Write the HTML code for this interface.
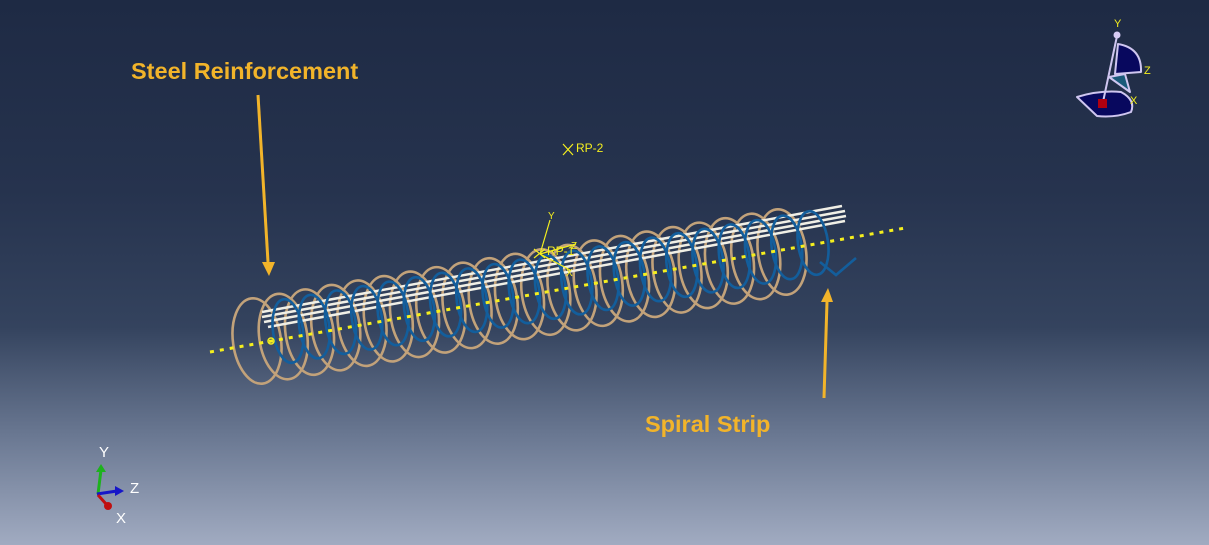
<!DOCTYPE html>
<html><head><style>
html,body{margin:0;padding:0;}
body{width:1209px;height:545px;overflow:hidden;background:linear-gradient(180deg,#1e2a44 0%,#26334e 35%,#34435e 60%,#6a7892 80%,#a1abc1 100%);font-family:"Liberation Sans",sans-serif;position:relative;}
.lbl{position:absolute;color:#f2b42a;font-weight:bold;font-size:23.5px;}
</style></head><body>
<div class="lbl" style="left:131px;top:58px;">Steel Reinforcement</div>
<div class="lbl" style="left:645px;top:411px;">Spiral Strip</div>
<svg width="1209" height="545" style="position:absolute;left:0;top:0" id="s">
<g id="tan" fill="none" stroke="#c2a27a" stroke-width="2.6"></g>
<g id="bars" stroke="#f0efe6" stroke-width="2.5">
<line x1="262" y1="312" x2="842" y2="206"/>
<line x1="262" y1="317" x2="845" y2="211"/>
<line x1="264" y1="322" x2="846" y2="216"/>
<line x1="268" y1="327" x2="845" y2="221"/>
</g>
<g id="blue" fill="none" stroke="#135e9c" stroke-width="2.6"></g>
<polyline points="820,262 836,275 856,258" fill="none" stroke="#135e9c" stroke-width="2.6"/>
<line x1="210" y1="352" x2="905" y2="228" stroke="#f5ef1e" stroke-width="3" stroke-dasharray="4,6"/>
<circle cx="271" cy="341" r="3" fill="none" stroke="#f5ef1e" stroke-width="1.5"/>
<line x1="258" y1="95" x2="268" y2="262" stroke="#f2b42a" stroke-width="3"/>
<polygon points="262,262 275,262 269,276" fill="#f2b42a"/>
<line x1="824" y1="398" x2="827" y2="302" stroke="#f2b42a" stroke-width="3"/>
<polygon points="821,302 833,302 828,288" fill="#f2b42a"/>
<g stroke="#f5ef1e" stroke-width="1.2" fill="none">
<path d="M563 144 L573 155 M573 144 L563 155"/>
<path d="M534 249 L545 258 M545 249 L534 258"/>
<line x1="540" y1="254" x2="550" y2="220"/>
<line x1="540" y1="254" x2="570" y2="270"/>
<line x1="540" y1="254" x2="576" y2="244"/>
</g>
<g fill="#f5ef1e" font-size="12" font-family="Liberation Sans,sans-serif">
<text x="576" y="152">RP-2</text>
<text x="547" y="255">RP-1</text>
<text x="548" y="219" font-size="10">Y</text>
<text x="571" y="249" font-size="10">Z</text>
<text x="566" y="276" font-size="10">X</text>
</g>
<g stroke="#cfc6f0" stroke-width="2" stroke-linejoin="round">
<path d="M1118 44 Q1142 48 1141 72 L1115 74 Z" fill="#08085e"/>
<path d="M1109 77 L1125 74 L1130 92 Z" fill="#1a5a7a"/>
<path d="M1077 97 Q1100 90 1121 92 Q1136 100 1131 112 Q1115 118 1097 116 Z" fill="#08085e"/>
<line x1="1117" y1="36" x2="1103" y2="102"/>
</g>
<circle cx="1117" cy="35" r="3.5" fill="#d8ccf5"/>
<rect x="1098" y="99" width="9" height="9" fill="#b00010"/>
<g fill="#f5ef1e" font-size="11" font-family="Liberation Sans,sans-serif">
<text x="1114" y="27">Y</text><text x="1144" y="74">Z</text><text x="1130" y="104">X</text>
</g>
<line x1="98" y1="494" x2="101" y2="470" stroke="#1db21d" stroke-width="3"/>
<polygon points="96,472 106,472 101,464" fill="#1db21d"/>
<line x1="97" y1="494" x2="117" y2="491" stroke="#1616c8" stroke-width="3"/>
<polygon points="115,486 115,496 124,491" fill="#1616c8"/>
<line x1="98" y1="495" x2="107" y2="505" stroke="#c01010" stroke-width="3"/>
<circle cx="108" cy="506" r="4" fill="#c01010"/>
<g fill="#fff" font-size="15" font-family="Liberation Sans,sans-serif">
<text x="99" y="457">Y</text><text x="130" y="493">Z</text><text x="116" y="523">X</text>
</g>
</svg>
<script>
var ns="http://www.w3.org/2000/svg";
var t=document.getElementById("tan"),b=document.getElementById("blue");
var n=21;
for(var i=0;i<n;i++){
 var f=i/(n-1);
 var e=document.createElementNS(ns,"ellipse");
 var cx=257+f*(782-257),cy=341+f*(252-341);
 e.setAttribute("cx",cx);e.setAttribute("cy",cy);e.setAttribute("rx",24);e.setAttribute("ry",43);
 e.setAttribute("transform","rotate(-8 "+cx+" "+cy+")");t.appendChild(e);
 var e2=document.createElementNS(ns,"ellipse");
 var bx=288+f*(813-288),by=331+f*(243-331);
 e2.setAttribute("cx",bx);e2.setAttribute("cy",by);e2.setAttribute("rx",15);e2.setAttribute("ry",32);
 e2.setAttribute("transform","rotate(-8 "+bx+" "+by+")");b.appendChild(e2);
}
</script>
</body></html>
